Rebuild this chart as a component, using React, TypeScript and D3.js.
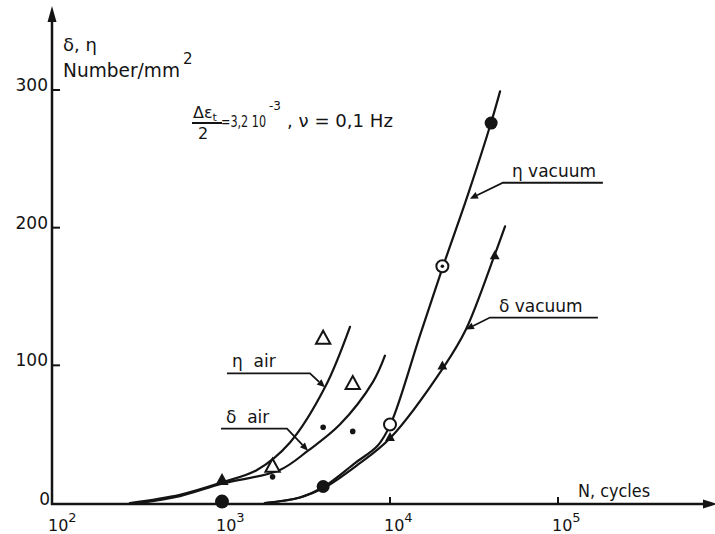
import React from 'react';
import * as d3 from 'd3';

const W = 715;
const H = 534;

// curves: [N cycles, number per mm2]
const etaAirCurve: [number, number][] = [[283, 0], [562, 6], [1000, 15], [1615, 24], [2540, 44], [4100, 84], [5780, 128]];
const deltaAirCurve: [number, number][] = [[325, 0], [562, 5], [1000, 14], [2210, 24], [3250, 38], [5030, 57], [7920, 88], [9330, 107]];
const etaVacCurve: [number, number][] = [[1800, 0], [2910, 4], [4050, 12], [6190, 29], [8490, 42], [10140, 58], [15100, 122], [20700, 172], [29100, 224], [39900, 276], [45200, 299]];
const deltaVacCurve: [number, number][] = [[1800, 0], [2910, 4], [4050, 11], [6460, 28], [10000, 47], [21200, 100], [28300, 126], [42200, 181], [48400, 201]];

// measured points
const airOpenTriangles: [number, number][] = [[2000, 27], [4000, 120], [6000, 87]];
const airFilledTriangles: [number, number][] = [[1000, 17]];
const airDots: [number, number][] = [[2000, 19], [4000, 55], [6000, 52]];
const vacFilledCircles: [number, number][] = [[1000, 1], [4000, 12], [40000, 276]];
const vacOpenCircles: [number, number][] = [[10000, 57], [20500, 172]];
const vacTriangles: [number, number][] = [[10000, 48], [20500, 100], [42000, 180]];

const yTicks = [0, 100, 200, 300];
const xTicks = [1e2, 1e3, 1e4, 1e5];
const xTickExp = ['2', '3', '4', '5'];

// leader labels: tip on the curve [N, value]
const leaders = [
  { label: 'η  air', tip: [4100, 84], knee: [-15, -14], len: -83 },
  { label: 'δ  air', tip: [3250, 38], knee: [-21, -22], len: -66 },
  { label: 'η vacuum', tip: [29900, 221], knee: [33, -16], len: 100 },
  { label: 'δ vacuum', tip: [28300, 126], knee: [24, -12], len: 108 },
];

const font = "'DejaVu Sans', sans-serif";
const ink = '#141414';

export default function App() {
  const x = d3.scaleLog().domain([100, 1e5]).range([54, 558]);
  const y = d3.scaleLinear().domain([0, 300]).range([503, 90]);

  const line = d3.line<[number, number]>()
    .x(d => x(d[0]))
    .y(d => y(d[1]))
    .curve(d3.curveCatmullRom.alpha(0.5));

  const tri = (cx: number, cy: number, s: number) =>
    `M${cx},${cy - s * 0.55}L${cx + s * 0.55},${cy + s * 0.45}L${cx - s * 0.55},${cy + s * 0.45}Z`;

  const curves = [etaAirCurve, deltaAirCurve, etaVacCurve, deltaVacCurve];

  return (
    <svg width={W} height={H} style={{ position: 'absolute', left: 0, top: 0, background: '#fff' }}
      fontFamily={font} fill={ink}>
      <rect width={W} height={H} fill="#fff" />

      {/* axes */}
      <line x1={52} y1={505} x2={52} y2={14} stroke={ink} strokeWidth={2.5} />
      <path d="M52,6L47.5,22L56.5,22Z" fill={ink} />
      <line x1={51} y1={504} x2={712} y2={504} stroke={ink} strokeWidth={2.5} />
      <path d="M717,504L703,499.5L703,508.5Z" fill={ink} />

      {yTicks.map(t => (
        <g key={t}>
          {t > 0 && <line x1={52} x2={60} y1={y(t)} y2={y(t)} stroke={ink} strokeWidth={2} />}
          <text x={t === 0 ? 50 : 48} y={y(t) + (t === 0 ? 2 : 1)} fontSize={17} textAnchor="end">{t}</text>
        </g>
      ))}

      {xTicks.map((t, i) => (
        <g key={t}>
          {i > 1 && <line x1={x(t)} x2={x(t)} y1={504} y2={497} stroke={ink} strokeWidth={2} />}
          <text x={x(t) - 6} y={531} fontSize={16}>
            10<tspan dy={-9} fontSize={13}>{xTickExp[i]}</tspan>
          </text>
        </g>
      ))}

      <text x={578} y={497} fontSize={17} textLength={72} lengthAdjust="spacingAndGlyphs">N, cycles</text>

      {/* axis title */}
      <text x={63} y={51} fontSize={18}>δ, η</text>
      <text x={63} y={77} fontSize={19} textLength={117} lengthAdjust="spacingAndGlyphs">Number/mm</text>
      <text x={183} y={64} fontSize={15}>2</text>

      {/* test conditions */}
      <text x={193} y={118} fontSize={16}>Δε<tspan dy={3} fontSize={11}>t</tspan></text>
      <line x1={192} x2={222} y1={123} y2={123} stroke={ink} strokeWidth={2} />
      <text x={198} y={139} fontSize={16}>2</text>
      <text x={221} y={127} fontSize={16} textLength={45} lengthAdjust="spacingAndGlyphs">=3,2 10</text>
      <text x={269} y={110} fontSize={12}>-3</text>
      <text x={287} y={127} fontSize={17} textLength={106} lengthAdjust="spacingAndGlyphs">,  ν = 0,1 Hz</text>

      {/* curves */}
      {curves.map((c, i) => (
        <path key={i} d={line(c) || ''} fill="none" stroke={ink} strokeWidth={2.2} strokeLinecap="round" />
      ))}

      {/* leaders */}
      {leaders.map(l => {
        const tx = x(l.tip[0]);
        const ty = y(l.tip[1]);
        const kx = tx + l.knee[0];
        const ky = ty + l.knee[1];
        const ex = kx + l.len;
        const ang = Math.atan2(ty - ky, tx - kx);
        const a = 8, b = 3.5;
        const bx = tx - a * Math.cos(ang);
        const by = ty - a * Math.sin(ang);
        const head = `M${tx},${ty}L${bx + b * Math.sin(ang)},${by - b * Math.cos(ang)}L${bx - b * Math.sin(ang)},${by + b * Math.cos(ang)}Z`;
        const textX = l.len < 0 ? ex + 5 : kx + 9;
        return (
          <g key={l.label}>
            <polyline points={`${ex},${ky} ${kx},${ky} ${bx},${by}`} fill="none" stroke={ink} strokeWidth={1.8} />
            <path d={head} fill={ink} />
            <text x={textX} y={ky - 6} fontSize={17} style={{ whiteSpace: 'pre' }}>{l.label}</text>
          </g>
        );
      })}

      {/* markers */}
      {airOpenTriangles.map((d, i) => (
        <path key={'ot' + i} d={tri(x(d[0]), y(d[1]), 13)} fill="#fff" stroke={ink} strokeWidth={2} />
      ))}
      {airFilledTriangles.map((d, i) => (
        <path key={'ft' + i} d={tri(x(d[0]), y(d[1]), 12)} fill={ink} />
      ))}
      {airDots.map((d, i) => (
        <circle key={'ad' + i} cx={x(d[0])} cy={y(d[1])} r={2.8} fill={ink} />
      ))}
      {vacFilledCircles.map((d, i) => (
        <circle key={'fc' + i} cx={x(d[0])} cy={y(d[1])} r={i === 0 ? 7 : 6.5} fill={ink} />
      ))}
      {vacOpenCircles.map((d, i) => (
        <g key={'oc' + i}>
          <circle cx={x(d[0])} cy={y(d[1])} r={6} fill="#fff" stroke={ink} strokeWidth={2} />
          {i === 1 && <circle cx={x(d[0])} cy={y(d[1])} r={1.8} fill={ink} />}
        </g>
      ))}
      {vacTriangles.map((d, i) => (
        <path key={'vt' + i} d={tri(x(d[0]), y(d[1]), 9)} fill={ink} />
      ))}
    </svg>
  );
}
